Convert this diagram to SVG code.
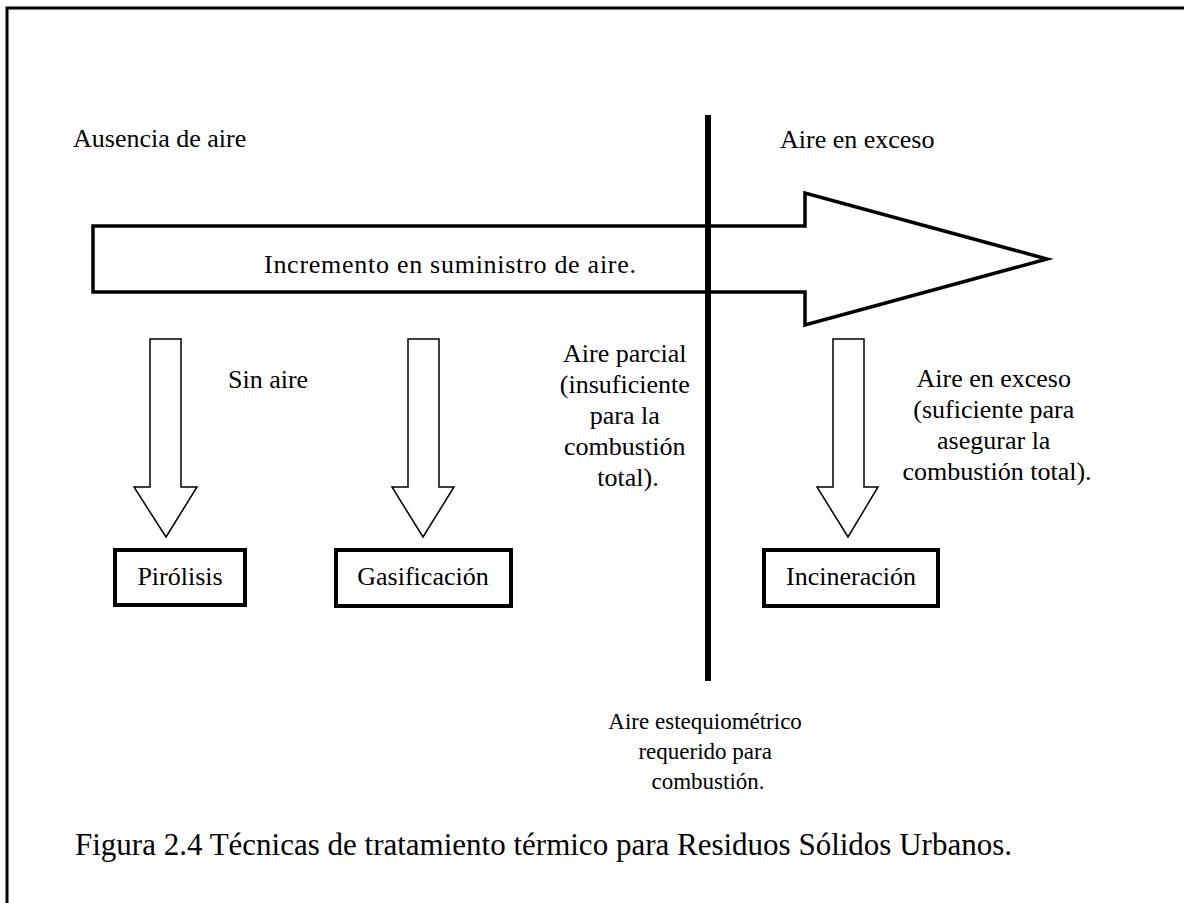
<svg xmlns="http://www.w3.org/2000/svg" width="1184" height="903" viewBox="0 0 1184 903">
  <style>
    text { font-family: "Liberation Serif", "Times New Roman", serif; font-size: 26px; fill: #000; }
    .mid { text-anchor: middle; }
    .small { font-size: 23px; }
    .caption { font-size: 31px; }
    .frame { fill: none; stroke: #000; stroke-width: 3; }
    .big-arrow { fill: #fff; stroke: #000; stroke-width: 3.5; stroke-linejoin: miter; }
    .down-arrow { fill: #fff; stroke: #000; stroke-width: 1.5; stroke-linejoin: miter; }
    .box { fill: #fff; stroke: #000; stroke-width: 4; }
    .divider { stroke: #000; stroke-width: 6; }
  </style>

  <rect width="1184" height="903" fill="#fff"/>

  <!-- page frame (top and left edges) -->
  <path class="frame" d="M7,903 V8 H1184"/>

  <!-- region labels -->
  <text x="73" y="147">Ausencia de aire</text>
  <text x="780" y="148">Aire en exceso</text>

  <!-- connectors: main air-supply arrow, stoichiometric divider and downward arrows -->
  <g id="connectors">
    <polygon class="big-arrow" points="93,226 805,226 805,193 1047,259 805,325 805,292 93,292"/>
    <line class="divider" x1="708" y1="115" x2="708" y2="681"/>
    <polygon class="down-arrow" points="150,339 181,339 181,487 197,487 166,537 134,487 150,487"/>
    <polygon class="down-arrow" points="408,339 439,339 439,487 454,487 423,537 392,487 408,487"/>
    <polygon class="down-arrow" points="833,339 864,339 864,487 878,487 848,537 817,487 833,487"/>
  </g>

  <text x="264" y="273" textLength="372" lengthAdjust="spacing">Incremento en suministro de aire.</text>

  <!-- arrow annotations -->
  <text x="228" y="388">Sin aire</text>
  <text class="mid">
    <tspan x="628" y="362">Aire parcial</tspan>
    <tspan x="628" y="393">(insuficiente</tspan>
    <tspan x="628" y="424">para la</tspan>
    <tspan x="628" y="455">combustión</tspan>
    <tspan x="628" y="486">total).</tspan>
  </text>
  <text class="mid">
    <tspan x="997" y="387">Aire en exceso</tspan>
    <tspan x="997" y="418">(suficiente para</tspan>
    <tspan x="997" y="449">asegurar la</tspan>
    <tspan x="997" y="480">combustión total).</tspan>
  </text>

  <!-- treatment technique nodes -->
  <g id="pirolisis">
    <rect class="box" x="115" y="550" width="130" height="55"/>
    <text class="mid" x="180" y="585">Pirólisis</text>
  </g>
  <g id="gasificacion">
    <rect class="box" x="336" y="550" width="175" height="56"/>
    <text class="mid" x="423" y="585">Gasificación</text>
  </g>
  <g id="incineracion">
    <rect class="box" x="764" y="550" width="174" height="56"/>
    <text class="mid" x="851" y="585">Incineración</text>
  </g>

  <!-- divider label -->
  <text class="mid small">
    <tspan x="708" y="729">Aire estequiométrico</tspan>
    <tspan x="708" y="759">requerido para</tspan>
    <tspan x="708" y="789">combustión.</tspan>
  </text>

  <text class="caption" x="75" y="855">Figura 2.4 Técnicas de tratamiento térmico para Residuos Sólidos Urbanos.</text>
</svg>
